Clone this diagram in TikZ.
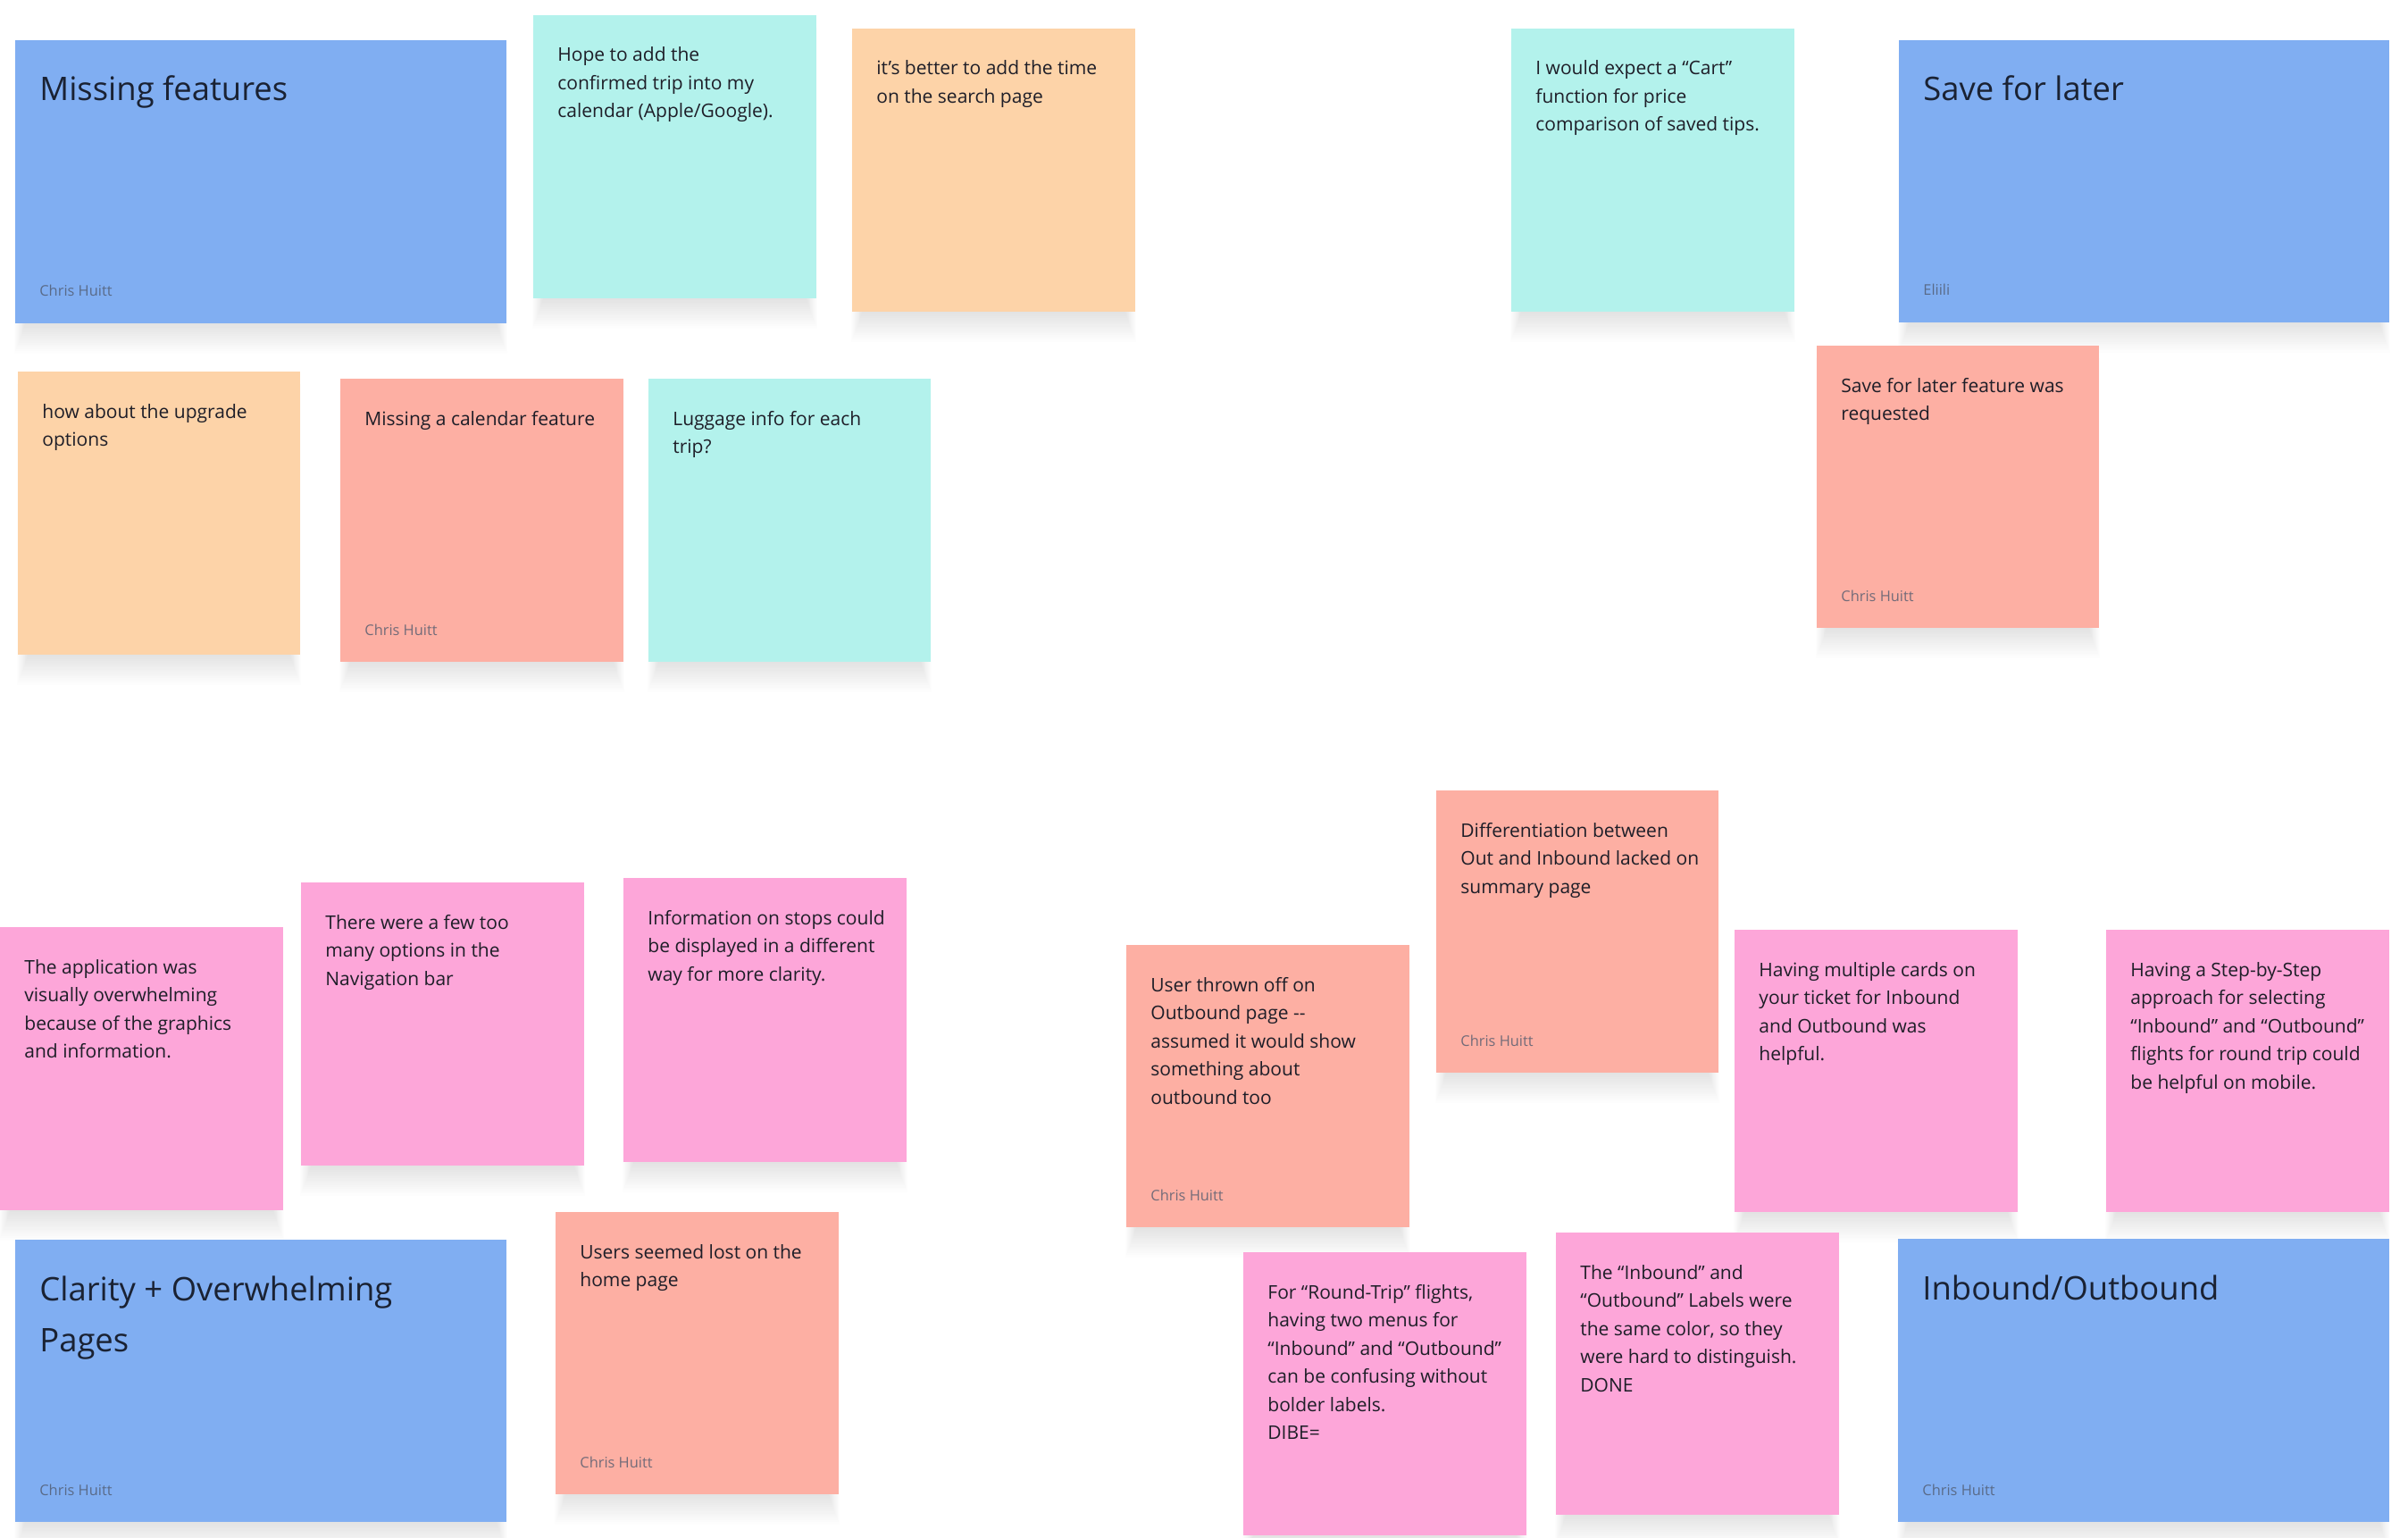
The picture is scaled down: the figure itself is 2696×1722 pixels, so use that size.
\documentclass[tikz,border=0pt]{standalone}
\usepackage{fontspec}
\setmainfont{Open Sans}
\definecolor{cblue}{HTML}{80AEF2}
\definecolor{ccyan}{HTML}{B3F2EC}
\definecolor{corange}{HTML}{FDD3A8}
\definecolor{csalmon}{HTML}{FDAFA3}
\definecolor{cpink}{HTML}{FDA6D9}
\definecolor{ink}{HTML}{1E1E28}
\definecolor{titleink}{HTML}{1A2233}
\definecolor{authorink}{HTML}{505A6E}
\tikzset{
  stickybox/.style={draw=none, inner sep=0pt, outer sep=0pt, anchor=north west},
  shadowlayer/.style={fill=black, opacity=0.0075},
  bodytext/.style={anchor=base west, inner sep=0pt, text=ink, font=\fontsize{10.5}{15.75}\selectfont},
  titletext/.style={anchor=base west, inner sep=0pt, text=titleink, font=\fontsize{18.2}{28.5}\selectfont},
  authortext/.style={anchor=base west, inner sep=0pt, text=authorink, text opacity=0.8, font=\fontsize{8.2}{10}\selectfont},
}
% name, x, y, w, h, colour
\newcommand{\stk}[6]{%
  \foreach \k in {1,...,14}{\fill[shadowlayer] ({#2+12-0.9*\k},{#3+14}) rectangle ({#2+#4-12+0.9*\k},{#3+#5+2.4*\k});}
  \node[stickybox, fill=#6, minimum width={#4*0.5pt}, minimum height={#5*0.5pt}] (#1) at (#2,#3) {};}
% name, x, y (sticky top-left), text
\newcommand{\stkbody}[4]{\node[bodytext] (#1) at ({#2+27},{#3+52}) {\parbox[t]{150pt}{\raggedright #4}};}
\newcommand{\stktitle}[4]{\node[titletext] (#1) at ({#2+27},{#3+68}) {\parbox[t]{260pt}{\raggedright #4}};}
% name, x, ybottom, text
\newcommand{\stkauthor}[4]{\node[authortext] (#1) at ({#2+27},{#3-30}) {#4};}
\begin{document}
\begin{tikzpicture}[x=0.5pt,y=-0.5pt]
\useasboundingbox[fill=white] (0,0) rectangle (2696,1722);

% ---- Missing features cluster
\stk{mf}{17}{45}{550}{317}{cblue}
\stktitle{mft}{17}{45}{Missing features}
\stkauthor{mfa}{17}{362}{Chris Huitt}

\stk{hope}{597}{17}{317}{317}{ccyan}
\stkbody{hopet}{597}{17}{Hope to add the\\confirmed trip into my\\calendar (Apple/Google).}

\stk{better}{954}{32}{317}{317}{corange}
\stkbody{bettert}{954}{32}{it’s better to add the time\\on the search page}

\stk{upg}{20}{416}{316}{317}{corange}
\stkbody{upgt}{20}{416}{how about the upgrade\\options}

\stk{cal}{381}{424}{317}{317}{csalmon}
\stkbody{calt}{381}{424}{Missing a calendar feature}
\stkauthor{cala}{381}{741}{Chris Huitt}

\stk{lug}{726}{424}{316}{317}{ccyan}
\stkbody{lugt}{726}{424}{Luggage info for each\\trip?}

% ---- Save for later cluster
\stk{cart}{1692}{32}{317}{317}{ccyan}
\stkbody{cartt}{1692}{32}{I would expect a “Cart”\\function for price\\comparison of saved tips.}

\stk{sfl}{2126}{45}{549}{316}{cblue}
\stktitle{sflt}{2126}{45}{Save for later}
\stkauthor{sfla}{2126}{361}{Eliili}

\stk{sflr}{2034}{387}{316}{316}{csalmon}
\stkbody{sflrt}{2034}{387}{Save for later feature was\\requested}
\stkauthor{sflra}{2034}{703}{Chris Huitt}

% ---- Clarity cluster
\stk{app}{0}{1038}{317}{317}{cpink}
\stkbody{appt}{0}{1038}{The application was\\visually overwhelming\\because of the graphics\\and information.}

\stk{few}{337}{988}{317}{317}{cpink}
\stkbody{fewt}{337}{988}{There were a few too\\many options in the\\Navigation bar}

\stk{info}{698}{983}{317}{318}{cpink}
\stkbody{infot}{698}{983}{Information on stops could\\be displayed in a different\\way for more clarity.}

\stk{clar}{17}{1388}{550}{316}{cblue}
\stktitle{clart}{17}{1388}{Clarity + Overwhelming\\Pages}
\stkauthor{clara}{17}{1704}{Chris Huitt}

\stk{lost}{622}{1357}{317}{316}{csalmon}
\stkbody{lostt}{622}{1357}{Users seemed lost on the\\home page}
\stkauthor{losta}{622}{1673}{Chris Huitt}

% ---- Inbound/Outbound cluster
\stk{thrown}{1261}{1058}{317}{316}{csalmon}
\stkbody{thrownt}{1261}{1058}{User thrown off on\\Outbound page -{}-\\assumed it would show\\something about\\outbound too}
\stkauthor{throwna}{1261}{1374}{Chris Huitt}

\stk{diff}{1608}{885}{316}{316}{csalmon}
\stkbody{difft}{1608}{885}{Differentiation between\\Out and Inbound lacked on\\summary page}
\stkauthor{diffa}{1608}{1201}{Chris Huitt}

\stk{multi}{1942}{1041}{317}{316}{cpink}
\stkbody{multit}{1942}{1041}{Having multiple cards on\\your ticket for Inbound\\and Outbound was\\helpful.}

\stk{step}{2358}{1041}{317}{316}{cpink}
\stkbody{stept}{2358}{1041}{Having a Step-by-Step\\approach for selecting\\“Inbound” and “Outbound”\\flights for round trip could\\be helpful on mobile.}

\stk{round}{1392}{1402}{317}{317}{cpink}
\stkbody{roundt}{1392}{1402}{For “Round-Trip” flights,\\having two menus for\\“Inbound” and “Outbound”\\can be confusing without\\bolder labels.\\DIBE=}

\stk{labels}{1742}{1380}{317}{316}{cpink}
\stkbody{labelst}{1742}{1380}{The “Inbound” and\\“Outbound” Labels were\\the same color, so they\\were hard to distinguish.\\DONE}

\stk{io}{2125}{1387}{550}{317}{cblue}
\stktitle{iot}{2125}{1387}{Inbound/Outbound}
\stkauthor{ioa}{2125}{1704}{Chris Huitt}
\end{tikzpicture}
\end{document}
